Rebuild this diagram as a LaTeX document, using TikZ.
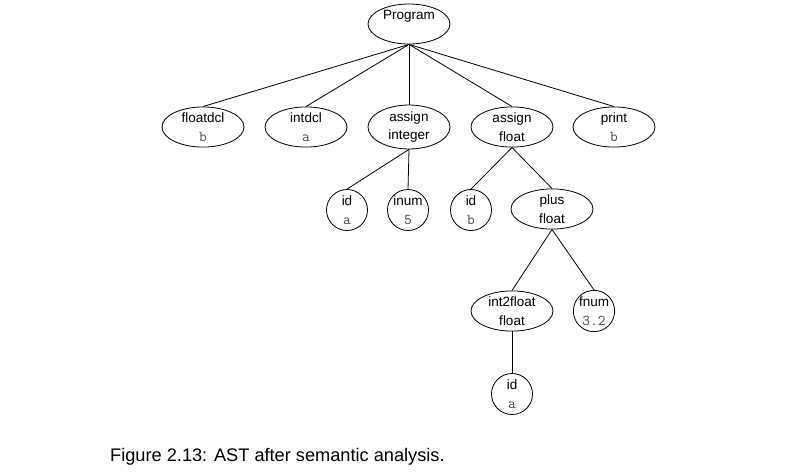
\documentclass[tikz,border=0pt]{standalone}
\usepackage{fontspec}
\setmainfont{Liberation Sans}
\usetikzlibrary{shapes.geometric}
\definecolor{valgray}{RGB}{70,70,80}
\newcommand\mv[1]{{\ttfamily\fontsize{15}{18.5}\selectfont\color{valgray}#1}}
\begin{document}
\begin{tikzpicture}[x=1pt,y=-1pt,
  ast/.style={ellipse,draw,line width=0.8pt,minimum width=82pt,minimum height=40pt,inner sep=0pt,align=center,font=\fontsize{13.5}{18.5}\selectfont},
  leaf/.style={circle,draw,line width=0.8pt,minimum size=41pt,inner sep=0pt,align=center,font=\fontsize{13.5}{18.5}\selectfont},
  link/.style={line width=0.8pt}]
\useasboundingbox (0,0) rectangle (792,472);

\node[ast] (prog) at (409,24) {Program\\\mv{\phantom{b}}};

\node[ast] (fdcl) at (203,127) {floatdcl\\\mv{b}};
\node[ast] (idcl) at (306,127) {intdcl\\\mv{a}};
\node[ast] (asi)  at (409,127) {assign\\integer};
\node[ast] (asf)  at (512,127) {assign\\float};
\node[ast] (prt)  at (614,127) {print\\\mv{b}};

\node[leaf] (ida)  at (347,210) {id\\\mv{a}};
\node[leaf] (inum) at (408,210) {inum\\\mv{5}};
\node[leaf] (idb)  at (471,210) {id\\\mv{b}};
\node[ast]  (plus) at (552,209) {plus\\float};

\node[ast]  (i2f)  at (512,311) {int2float\\float};
\node[leaf] (fnum) at (594,311) {fnum\\\mv{3.2}};

\node[leaf] (ida2) at (512,394) {id\\\mv{a}};

\foreach \c in {fdcl,idcl,asi,asf,prt}
  \draw[link] (prog.south) -- (\c.north);
\draw[link] (asi.south) -- (ida.north);
\draw[link] (asi.south) -- (inum.north);
\draw[link] (asf.south) -- (idb.north);
\draw[link] (asf.south) -- (plus.north);
\draw[link] (plus.south) -- (i2f.north);
\draw[link] (plus.south) -- (fnum.north);
\draw[link] (i2f.south) -- (ida2.north);

\node[anchor=base west,inner sep=0pt,font=\fontsize{18.2}{22}\selectfont] (cap) at (110,461) {Figure 2.13: AST after semantic analysis.};
\end{tikzpicture}
\end{document}
